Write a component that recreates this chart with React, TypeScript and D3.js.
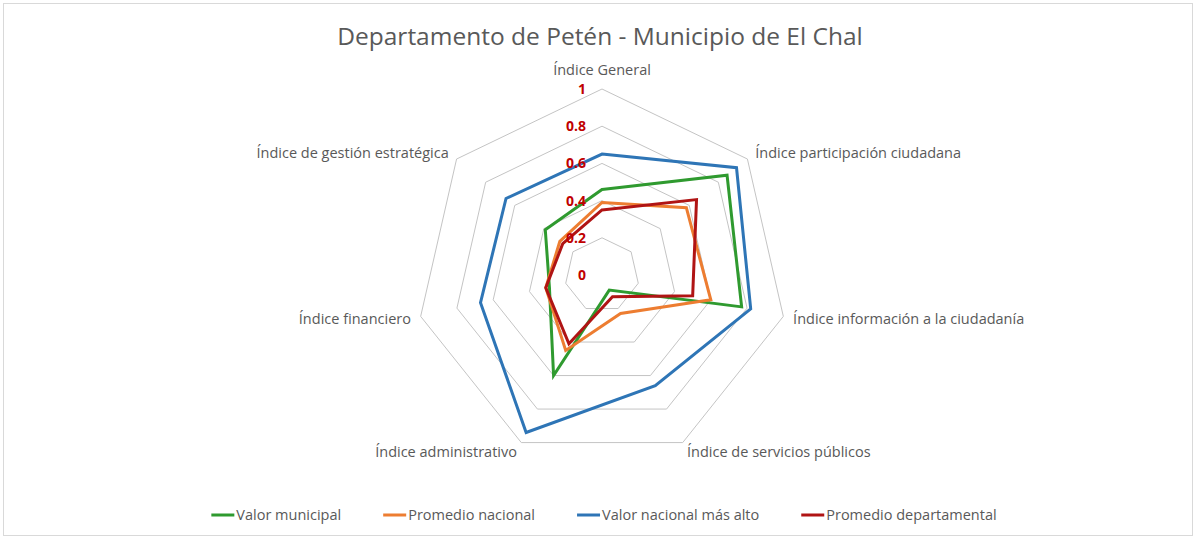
import React, { useEffect, useRef } from "react";
import * as d3 from "d3";

const title = "Departamento de Petén - Municipio de El Chal";
const axes = [
  "Índice General",
  "Índice participación ciudadana",
  "Índice información a la ciudadanía",
  "Índice de servicios públicos",
  "Índice administrativo",
  "Índice financiero",
  "Índice de gestión estratégica",
];
const valorMunicipal = [0.46, 0.86, 0.77, 0.09, 0.6, 0.29, 0.39];
const promedioNacional = [0.39, 0.58, 0.6, 0.23, 0.45, 0.31, 0.29];
const valorNacionalMasAlto = [0.65, 0.925, 0.82, 0.66, 0.94, 0.67, 0.66];
const promedioDepartamental = [0.35, 0.65, 0.5, 0.13, 0.41, 0.31, 0.27];
const tickValues = [0, 0.2, 0.4, 0.6, 0.8, 1];
const tickLabels = ["0", "0.2", "0.4", "0.6", "0.8", "1"];
const seriesNames = ["Valor municipal", "Promedio nacional", "Valor nacional más alto", "Promedio departamental"];
const seriesColors = ["#2f9a2f", "#ed7d31", "#2e75b6", "#b01414"];
const seriesData = [valorMunicipal, promedioNacional, valorNacionalMasAlto, promedioDepartamental];

const W = 1197;
const H = 540;
const FONT = "'Open Sans', sans-serif";

export default function App() {
  const ref = useRef<SVGSVGElement>(null);
  useEffect(() => {
    const svg = d3.select(ref.current!);
    svg.selectAll("*").remove();
    svg.append("rect").attr("x", 3.5).attr("y", 3.5).attr("width", W - 8).attr("height", H - 8)
      .attr("fill", "#fff").attr("stroke", "#d9d9d9");

    svg.append("text").attr("x", 600).attr("y", 45).attr("text-anchor", "middle")
      .attr("font-family", FONT).attr("font-size", 24.5).attr("fill", "#595959").text(title);

    const cx = 602, cy = 275, R = 186;
    const r = d3.scaleLinear().domain([0, 1]).range([0, R]);
    const n = axes.length;
    const ang = (i: number) => (i * 2 * Math.PI) / n;
    const g = svg.append("g").attr("transform", `translate(${cx},${cy})`);

    const ring = d3.lineRadial<number>().angle((_, i) => ang(i)).radius((d) => r(d)).curve(d3.curveLinearClosed);
    tickValues.filter((t) => t > 0).forEach((t) => {
      g.append("path").attr("d", ring(axes.map(() => t))!).attr("fill", "none")
        .attr("stroke", "#c4c4c4").attr("stroke-width", 1);
    });

    seriesData.forEach((s, si) => {
      g.append("path").attr("d", ring(s)!).attr("fill", "none")
        .attr("stroke", seriesColors[si]).attr("stroke-width", 3).attr("stroke-linejoin", "miter");
    });

    tickValues.forEach((t, i) => {
      g.append("text").attr("x", -16).attr("y", -r(t)).attr("dy", "0.35em").attr("text-anchor", "end")
        .attr("font-family", FONT).attr("font-size", 14).attr("font-weight", "bold").attr("fill", "#c00000")
        .text(tickLabels[i]);
    });

    axes.forEach((a, i) => {
      const ux = Math.sin(ang(i)), uy = -Math.cos(ang(i));
      let x = ux * (R + 10), y = uy * (R + 10);
      let anchor = "middle";
      if (i === 0) { y = -R - 19; }
      else if (ux > 0) anchor = "start";
      else anchor = "end";
      g.append("text").attr("x", x).attr("y", y).attr("dy", "0.35em").attr("text-anchor", anchor)
        .attr("font-family", FONT).attr("font-size", 14.5).attr("fill", "#595959").text(a);
    });

    // legend
    const lg = svg.append("g");
    const items = seriesNames.map((name, i) => {
      const it = lg.append("g");
      it.append("line").attr("x1", 0).attr("x2", 23).attr("y1", 0).attr("y2", 0)
        .attr("stroke", seriesColors[i]).attr("stroke-width", 3);
      const t = it.append("text").attr("x", 25).attr("y", 0).attr("dy", "0.35em")
        .attr("font-family", FONT).attr("font-size", 14.5).attr("fill", "#595959").text(name);
      const w = 25 + (t.node() as SVGTextElement).getComputedTextLength();
      return { it, w };
    });
    const gap = 42;
    const total = items.reduce((s, d) => s + d.w, 0) + gap * (items.length - 1);
    let x0 = 604 - total / 2;
    items.forEach((d) => {
      d.it.attr("transform", `translate(${x0},515)`);
      x0 += d.w + gap;
    });
  }, []);
  return (
    <svg ref={ref} width={W} height={H} style={{ position: "absolute", left: 0, top: 0, background: "#fff" }} />
  );
}
